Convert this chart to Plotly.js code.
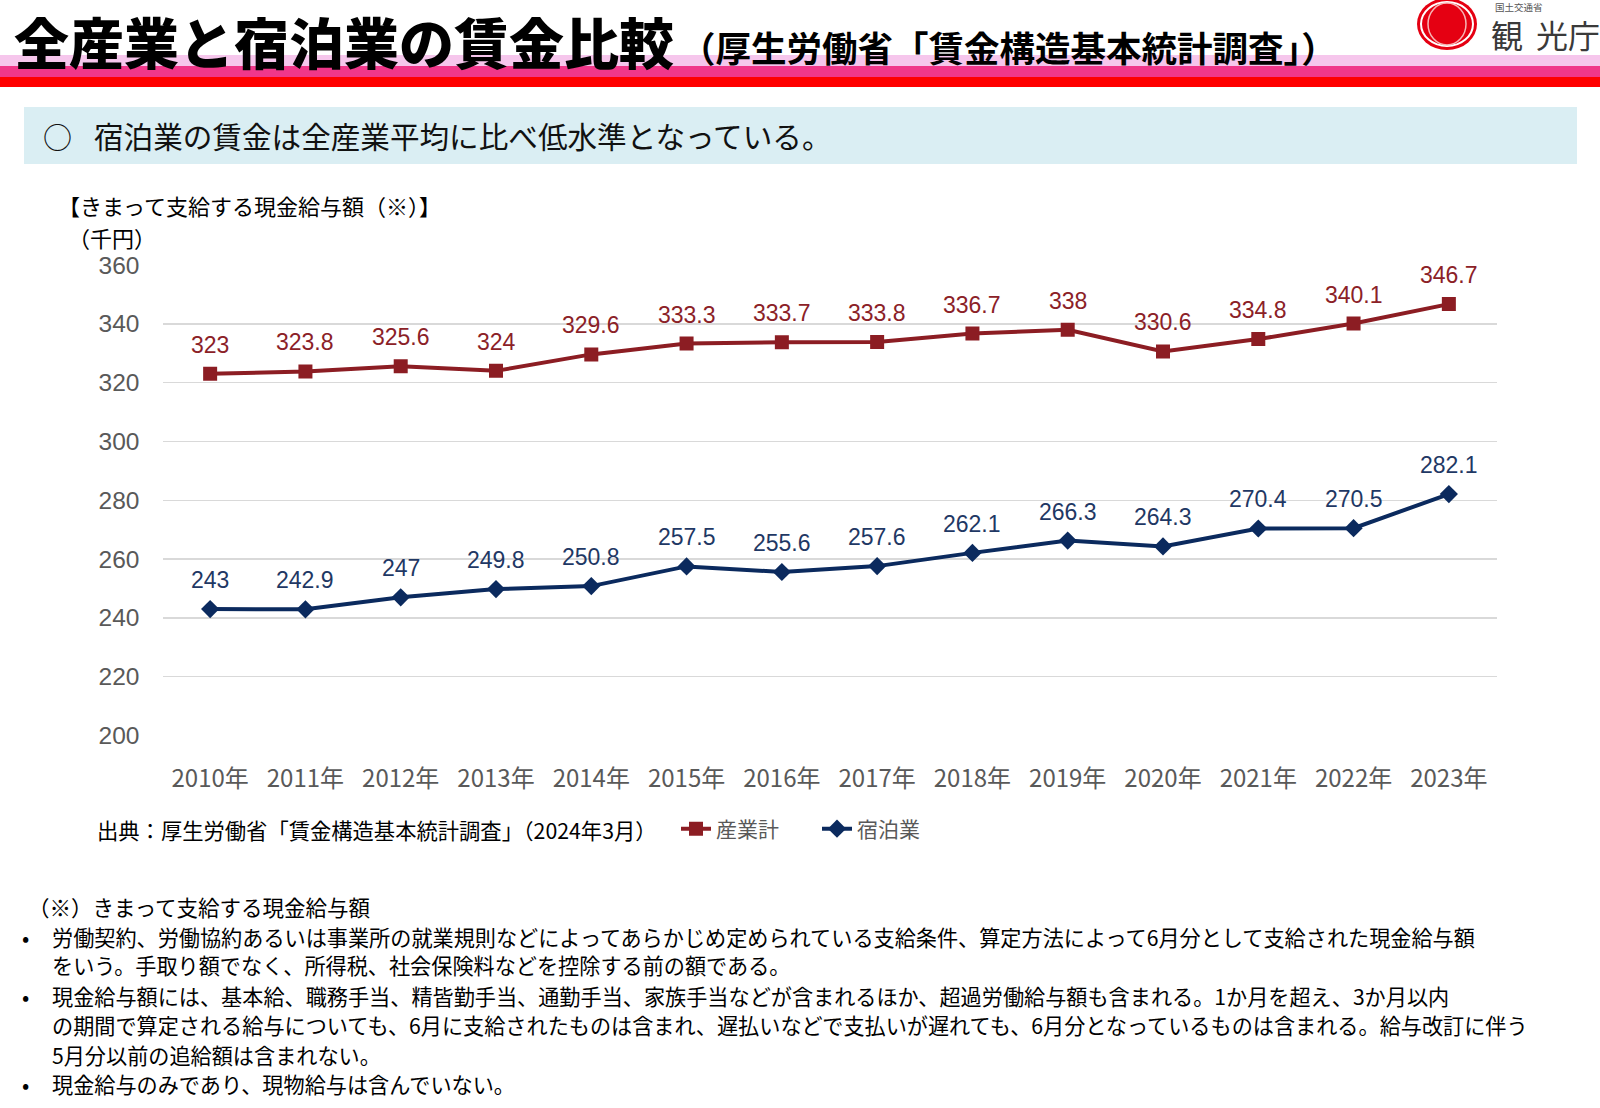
<!DOCTYPE html>
<html>
<head>
<meta charset="utf-8">
<script src="https://cdn.plot.ly/plotly-3.0.1.min.js"></script>
<style>
html,body{margin:0;padding:0;background:#fff;}
#chart{width:1600px;height:1108px;}
</style>
</head>
<body>
<div id="chart"></div>
<script>
// ---- data ----
const years = ["2010年","2011年","2012年","2013年","2014年","2015年","2016年","2017年","2018年","2019年","2020年","2021年","2022年","2023年"];
const allIndustry = [323, 323.8, 325.6, 324, 329.6, 333.3, 333.7, 333.8, 336.7, 338, 330.6, 334.8, 340.1, 346.7];
const lodging = [243, 242.9, 247, 249.8, 250.8, 257.5, 255.6, 257.6, 262.1, 266.3, 264.3, 270.4, 270.5, 282.1];
const seriesNames = ["産業計", "宿泊業"];
const yTicks = [200, 220, 240, 260, 280, 300, 320, 340, 360];

const titleText = "全産業と宿泊業の賃金比較";
const subtitleText = "（厚生労働省「賃金構造基本統計調査」）";
const bannerText = "宿泊業の賃金は全産業平均に比べ低水準となっている。";
const unitLabel1 = "【きまって支給する現金給与額（※）】";
const unitLabel2 = "（千円）";
const sourceText = "出典：厚生労働省「賃金構造基本統計調査」（2024年3月）";
const noteHeader = "（※）きまって支給する現金給与額";
const noteLines = [
  {bullet:true,  text:"労働契約、労働協約あるいは事業所の就業規則などによってあらかじめ定められている支給条件、算定方法によって6月分として支給された現金給与額"},
  {bullet:false, text:"をいう。手取り額でなく、所得税、社会保険料などを控除する前の額である。"},
  {bullet:true,  text:"現金給与額には、基本給、職務手当、精皆勤手当、通勤手当、家族手当などが含まれるほか、超過労働給与額も含まれる。1か月を超え、3か月以内"},
  {bullet:false, text:"の期間で算定される給与についても、6月に支給されたものは含まれ、遅払いなどで支払いが遅れても、6月分となっているものは含まれる。給与改訂に伴う"},
  {bullet:false, text:"5月分以前の追給額は含まれない。"},
  {bullet:true,  text:"現金給与のみであり、現物給与は含んでいない。"}
];

// ---- style ----
const W = 1600, H = 1108;
const RED = "#8C1D23", NAVY = "#0B2A5E";
const RED_TXT = "#8B2127", NAVY_TXT = "#1F3864";
const JP = "Noto Sans CJK JP, sans-serif";
const NUM = "Liberation Sans, Arial, sans-serif";
const px = x => x / W;
const py = y => 1 - y / H;

const traces = [
  {x: years, y: allIndustry, name: seriesNames[0], type: "scatter", mode: "lines+markers",
   line: {color: RED, width: 4}, marker: {symbol: "square", size: 14, color: RED}, hoverinfo: "skip"},
  {x: years, y: lodging, name: seriesNames[1], type: "scatter", mode: "lines+markers",
   line: {color: NAVY, width: 4}, marker: {symbol: "diamond", size: 14, color: NAVY}, hoverinfo: "skip"}
];

const annotations = [];
// data labels
allIndustry.forEach((v, i) => annotations.push({x: years[i], y: v, xref: "x", yref: "y", text: String(v),
  showarrow: false, yshift: 29, font: {family: NUM, size: 23, color: RED_TXT}}));
lodging.forEach((v, i) => annotations.push({x: years[i], y: v, xref: "x", yref: "y", text: String(v),
  showarrow: false, yshift: 29, font: {family: NUM, size: 23, color: NAVY_TXT}}));

function txt(x, y, text, size, color, opts) {
  annotations.push(Object.assign({xref: "paper", yref: "paper", x: px(x), y: py(y), text: text,
    showarrow: false, xanchor: "left", yanchor: "middle", font: {family: JP, size: size, color: color}}, opts || {}));
}
txt(12, 40, titleText, 55, "#000", {font: {family: JP, size: 55, color: "#000", weight: 900}});
txt(678, 46, subtitleText, 35.5, "#000", {font: {family: JP, size: 35.5, color: "#000", weight: 700}});
txt(41, 136, "○", 29, "#111");
txt(92, 136, bannerText, 29.6, "#111");
txt(56, 205, unitLabel1, 22, "#000");
txt(66, 237, unitLabel2, 22, "#000");
txt(95, 829, sourceText, 21.3, "#000");
txt(26, 906, noteHeader, 21.5, "#000");
const noteY = [936, 964, 995, 1024, 1054, 1083];
noteLines.forEach((l, i) => {
  if (l.bullet) txt(20, noteY[i], "•", 21.5, "#000");
  txt(50, noteY[i], l.text, 21.15, "#000");
});
// logo text
txt(1493, 7, "国土交通省", 9.5, "#555");
txt(1507, 34, "観", 32, "#3a3a3a", {xanchor: "center"});
txt(1552, 34, "光", 32, "#3a3a3a", {xanchor: "center"});
txt(1584, 34, "庁", 32, "#3a3a3a", {xanchor: "center"});

function rect(x0, y0, x1, y1, color) {
  return {type: "rect", xref: "paper", yref: "paper", x0: px(x0), x1: px(x1), y0: py(y1), y1: py(y0),
    fillcolor: color, line: {width: 0}, layer: "below"};
}
const shapes = [
  rect(0, 55, W, 66, "#F6C6EC"),
  rect(0, 66, W, 77, "#F0378A"),
  rect(0, 77, W, 87, "#FF0000"),
  rect(24, 107, 1577, 164, "#DAEEF3"),
  {type: "circle", xref: "paper", yref: "paper", x0: px(1417), x1: px(1477), y0: py(50), y1: py(-2),
   fillcolor: "#E50012", line: {width: 0}, layer: "above"},
  {type: "circle", xref: "paper", yref: "paper", x0: px(1421), x1: px(1473), y0: py(46), y1: py(2),
   fillcolor: "rgba(0,0,0,0)", line: {width: 2, color: "#FFFFFF"}, layer: "above"},
  {type: "circle", xref: "paper", yref: "paper", x0: px(1428), x1: px(1466), y0: py(45), y1: py(3),
   fillcolor: "rgba(0,0,0,0)", line: {width: 1.5, color: "#F6B5B5"}, layer: "above"}
];

const layout = {
  width: W, height: H, autosize: false,
  margin: {l: 0, r: 0, t: 0, b: 0},
  paper_bgcolor: "#fff", plot_bgcolor: "#fff",
  showlegend: true,
  legend: {orientation: "h", x: px(676), y: py(829), xanchor: "left", yanchor: "middle",
    font: {family: JP, size: 21, color: "#595959"}, bgcolor: "rgba(0,0,0,0)",
    entrywidth: 96, entrywidthmode: "pixels", itemclick: false},
  xaxis: {domain: [px(162.5), px(1496.5)], type: "category", range: [-0.5, 13.5],
    showgrid: false, showline: false, zeroline: false, ticks: "",
    tickfont: {family: JP, size: 24, color: "#595959"}, ticklabelstandoff: 26, fixedrange: true},
  yaxis: {domain: [py(735.5), py(265)], range: [200, 360], tickvals: yTicks,
    showgrid: true, gridcolor: "#D9D9D9", gridwidth: 1.5, zeroline: false, showline: false, ticks: "",
    tickfont: {family: NUM, size: 24.5, color: "#595959"}, ticklabelstandoff: 22, fixedrange: true},
  annotations: annotations,
  shapes: shapes,
  hovermode: false
};

Plotly.newPlot("chart", traces, layout, {staticPlot: true, displayModeBar: false});
</script>
</body>
</html>
